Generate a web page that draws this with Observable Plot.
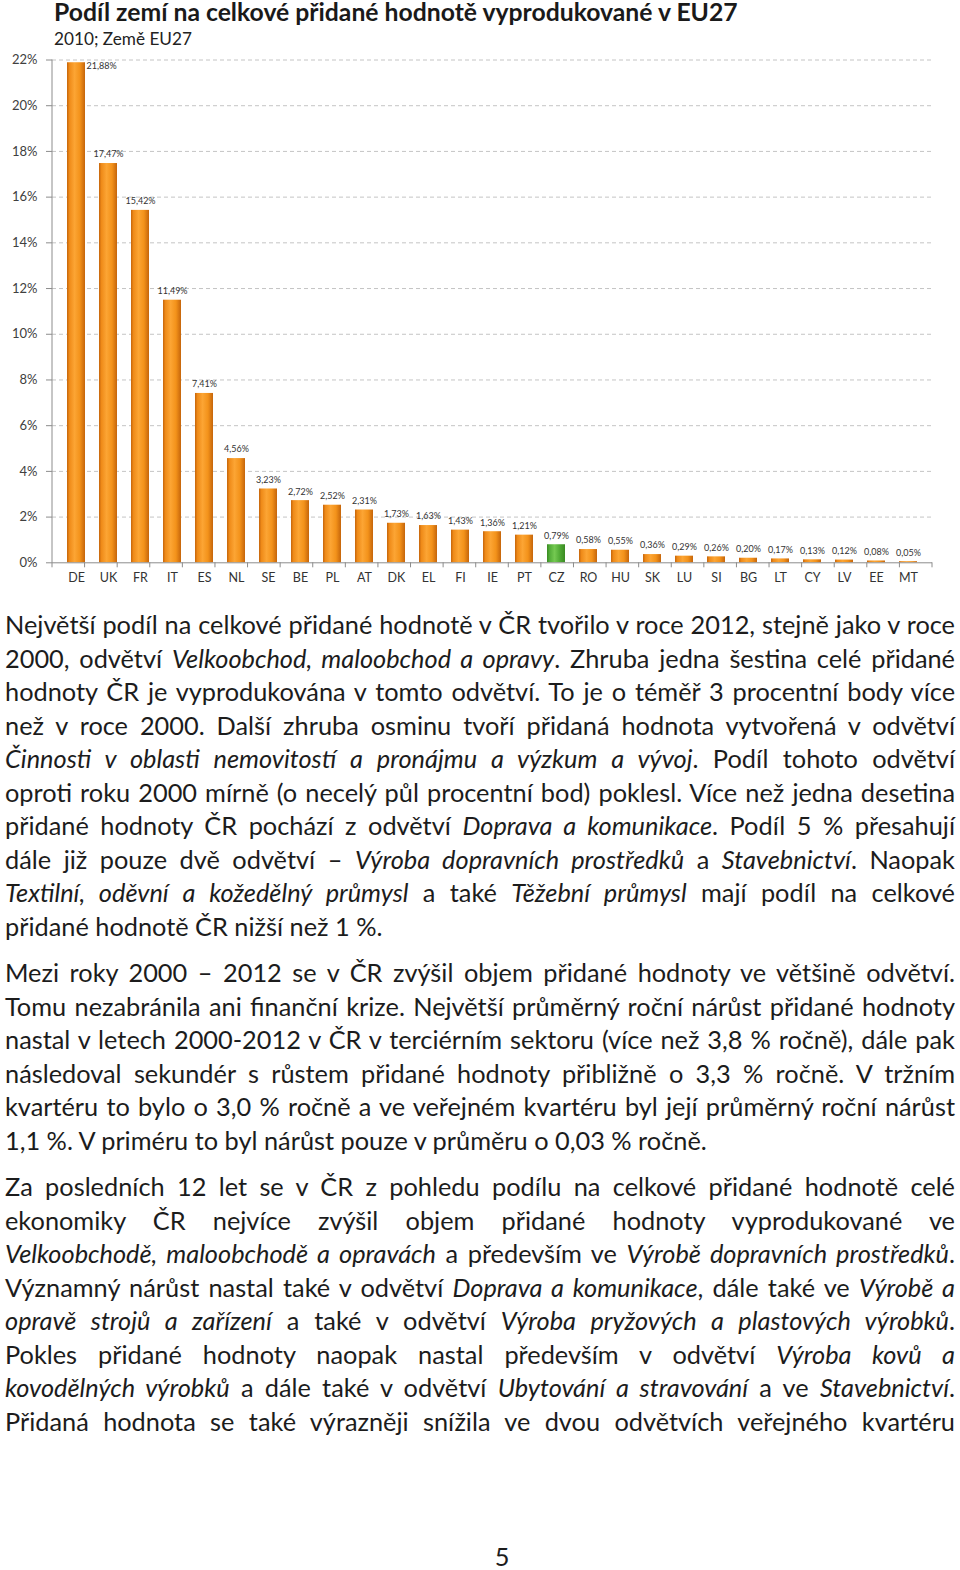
<!DOCTYPE html>
<html lang="cs">
<head>
<meta charset="utf-8">
<script src="https://cdn.jsdelivr.net/npm/d3@7"></script>
<script src="https://cdn.jsdelivr.net/npm/@observablehq/plot@0.6"></script>
<style>
  html, body { margin: 0; padding: 0; background: #fff; }
  body { width: 960px; height: 1570px; position: relative; overflow: hidden; font-family: Lato, "Noto Sans", sans-serif; color: #1c1c1c; }
  #title { position: absolute; left: 54px; top: 0; font-weight: 700; font-size: 21px; line-height: 24px; white-space: nowrap; color: #1a1a1a; }
  #subtitle { position: absolute; left: 54px; top: 29px; font-size: 16px; line-height: 20px; white-space: nowrap; color: #222; }
  #chart { position: absolute; left: 0; top: 48px; }
  #text { position: absolute; left: 5px; top: 608px; width: 950px; }
  .para { margin: 0 0 13px 0; }
  .line { line-height: 33.5px; height: 33.5px; text-align: justify; text-align-last: justify; }
  .line.last { text-align: left; text-align-last: left; }
  #page { position: absolute; left: 490px; width: 24px; top: 1543px; text-align: center; font-size: 22px; line-height: 26px; }
</style>
</head>
<body>
<div id="title"></div>
<div id="subtitle"></div>
<div id="chart"></div>
<div id="text"></div>
<div id="page">5</div>
<script>
// ---- chart data ----
const titleText = "Podíl zemí na celkové přidané hodnotě vyprodukované v EU27";
const subtitleText = "2010; Země EU27";
const countries = ["DE","UK","FR","IT","ES","NL","SE","BE","PL","AT","DK","EL","FI","IE","PT","CZ","RO","HU","SK","LU","SI","BG","LT","CY","LV","EE","MT"];
const shares = [21.88,17.47,15.42,11.49,7.41,4.56,3.23,2.72,2.52,2.31,1.73,1.63,1.43,1.36,1.21,0.79,0.58,0.55,0.36,0.29,0.26,0.20,0.17,0.13,0.12,0.08,0.05];
const highlighted = "CZ";
const yTicks = [0,2,4,6,8,10,12,14,16,18,20,22];

// ---- article text (italic marked with *) ----
const para1 = [
  "Největší podíl na celkové přidané hodnotě v ČR tvořilo v roce 2012, stejně jako v roce",
  "2000, odvětví *Velkoobchod, maloobchod a opravy*. Zhruba jedna šestina celé přidané",
  "hodnoty ČR je vyprodukována v tomto odvětví. To je o téměř 3 procentní body více",
  "než v roce 2000. Další zhruba osminu tvoří přidaná hodnota vytvořená v odvětví",
  "*Činnosti v oblasti nemovitostí a pronájmu a výzkum a vývoj*. Podíl tohoto odvětví",
  "oproti roku 2000 mírně (o necelý půl procentní bod) poklesl. Více než jedna desetina",
  "přidané hodnoty ČR pochází z odvětví *Doprava a komunikace*. Podíl 5 % přesahují",
  "dále již pouze dvě odvětví – *Výroba dopravních prostředků* a *Stavebnictví*. Naopak",
  "*Textilní, oděvní a kožedělný průmysl* a také *Těžební průmysl* mají podíl na celkové",
  "přidané hodnotě ČR nižší než 1 %."
];
const para2 = [
  "Mezi roky 2000 – 2012 se v ČR zvýšil objem přidané hodnoty ve většině odvětví.",
  "Tomu nezabránila ani finanční krize. Největší průměrný roční nárůst přidané hodnoty",
  "nastal v letech 2000-2012 v ČR v terciérním sektoru (více než 3,8 % ročně), dále pak",
  "následoval sekundér s růstem přidané hodnoty přibližně o 3,3 % ročně. V tržním",
  "kvartéru to bylo o 3,0 % ročně a ve veřejném kvartéru byl její průměrný roční nárůst",
  "1,1 %. V priméru to byl nárůst pouze v průměru o 0,03 % ročně."
];
const para3 = [
  "Za posledních 12 let se v ČR z pohledu podílu na celkové přidané hodnotě celé",
  "ekonomiky ČR nejvíce zvýšil objem přidané hodnoty vyprodukované ve",
  "*Velkoobchodě, maloobchodě a opravách* a především ve *Výrobě dopravních prostředků*.",
  "Významný nárůst nastal také v odvětví *Doprava a komunikace*, dále také ve *Výrobě a*",
  "*opravě strojů a zařízení* a také v odvětví *Výroba pryžových a plastových výrobků*.",
  "Pokles přidané hodnoty naopak nastal především v odvětví *Výroba kovů a*",
  "*kovodělných výrobků* a dále také v odvětví *Ubytování a stravování* a ve *Stavebnictví*.",
  "Přidaná hodnota se také výrazněji snížila ve dvou odvětvích veřejného kvartéru"
];
const paragraphs = [
  {lines: para1, endsParagraph: true},
  {lines: para2, endsParagraph: true},
  {lines: para3, endsParagraph: false}
];

// ---- build table ----
const data = countries.map((c, i) => ({country: c, share: shares[i]}));
const fmt = v => d3.format(".2f")(v).replace(".", ",") + "%";

// ---- title ----
function fitWidth(el, target) {
  el.style.display = "inline-block";
  const w = el.getBoundingClientRect().width;
  const fs = parseFloat(getComputedStyle(el).fontSize);
  el.style.fontSize = (fs * target / w) + "px";
}
const tEl = document.getElementById("title");
tEl.textContent = titleText;
fitWidth(tEl, 684);
const sEl = document.getElementById("subtitle");
sEl.textContent = subtitleText;
fitWidth(sEl, 138);

// ---- chart ----
function gradientDefs() {
  const g = d3.create("svg:g");
  const defs = g.append("defs");
  const mk = (id, stops) => {
    const lg = defs.append("linearGradient").attr("id", id).attr("x1", "0").attr("x2", "1").attr("y1", "0").attr("y2", "0");
    stops.forEach(([o, c]) => lg.append("stop").attr("offset", o).attr("stop-color", c));
  };
  mk("gOrange", [[0, "#C5650B"], [0.14, "#EF8B19"], [0.42, "#FCA534"], [0.72, "#F3921A"], [1, "#C5650B"]]);
  mk("gGreen", [[0, "#3A8A22"], [0.14, "#52AC38"], [0.42, "#74C951"], [0.72, "#4FA934"], [1, "#3A8A22"]]);
  mk("gCap", [[0, "#F3A22A"], [0.3, "#FFD25E"], [0.55, "#FFE28C"], [0.8, "#FFC84A"], [1, "#F09A22"]]);
  return g.node();
}

function axisFrame(index, scales, values, dim) {
  const g = d3.create("svg:g").attr("stroke", "#8c8c8c").attr("fill", "none");
  const x0 = dim.marginLeft, x1 = dim.width - dim.marginRight;
  const yb = scales.y(yTicks[0]), yt = scales.y(yTicks[yTicks.length - 1]);
  g.append("line").attr("x1", x0).attr("x2", x0).attr("y1", yt).attr("y2", yb);
  const step = (x1 - x0) / countries.length;
  for (let i = 0; i <= countries.length; i++) {
    const x = x0 + i * step;
    g.append("line").attr("x1", x).attr("x2", x).attr("y1", yb).attr("y2", yb + 5);
  }
  return g.node();
}

const plot = Plot.plot({
  width: 960,
  height: 548,
  marginTop: 11.5,
  marginBottom: 33.7,
  marginLeft: 52,
  marginRight: 28,
  style: {fontFamily: "Lato, 'Noto Sans', sans-serif", background: "transparent", color: "#333"},
  x: {domain: countries, paddingInner: 0.45, paddingOuter: 0.225, label: null},
  y: {domain: [0, 22], label: null},
  marks: [
    gradientDefs,
    Plot.ruleY(yTicks.filter(t => t > 0), {stroke: "#c4c4c4", strokeDasharray: "4,3"}),
    Plot.barY(data.filter(d => d.country !== highlighted), {x: "country", y: "share", fill: "url(#gOrange)"}),
    Plot.barY(data.filter(d => d.country === highlighted), {x: "country", y: "share", fill: "url(#gGreen)"}),
    Plot.tickY(data.filter(d => d.share >= 0.25 && d.country !== highlighted), {x: "country", y: "share", stroke: "url(#gCap)", strokeWidth: 4, dy: 2}),
    Plot.ruleY([0], {stroke: "#8c8c8c"}),
    axisFrame,
    Plot.axisY({ticks: yTicks, tickSize: 6, tickPadding: 9, tickFormat: d => d + "%", fontSize: 13, stroke: "#8c8c8c", fill: "#404040"}),
    Plot.axisX({tickSize: 0, tickPadding: 10, fontSize: 12.5, fill: "#333"}),
    Plot.text(data.slice(1), {x: "country", y: "share", text: d => fmt(d.share), dy: -9, fontSize: 9, fill: "#333"}),
    Plot.text(data.slice(0, 1), {x: "country", y: "share", text: d => fmt(d.share), dx: 10, dy: 3, textAnchor: "start", fontSize: 9, fill: "#333"})
  ]
});
document.getElementById("chart").appendChild(plot);

// ---- text ----
function toHTML(s) {
  return s.replace(/&/g, "&amp;").replace(/</g, "&lt;").replace(/\*([^*]+)\*/g, "<i>$1</i>");
}
const textDiv = document.getElementById("text");
const allLines = [];
paragraphs.forEach(p => {
  const pd = document.createElement("div");
  pd.className = "para";
  p.lines.forEach((ln, i) => {
    const d = document.createElement("div");
    d.className = "line" + (p.endsParagraph && i === p.lines.length - 1 ? " last" : "");
    d.innerHTML = toHTML(ln);
    pd.appendChild(d);
    allLines.push(d);
  });
  textDiv.appendChild(pd);
});
// fit font size so the tightest line fills the 950px width
let base = 23;
textDiv.style.fontSize = base + "px";
let maxW = 0;
allLines.forEach(d => {
  const s = document.createElement("span");
  s.style.whiteSpace = "nowrap";
  s.innerHTML = d.innerHTML;
  document.body.appendChild(s);
  s.style.fontSize = base + "px";
  maxW = Math.max(maxW, s.getBoundingClientRect().width);
  s.remove();
});
textDiv.style.fontSize = Math.min(26, base * 944 / maxW) + "px";
document.getElementById("page").style.fontSize = Math.min(26, base * 944 / maxW) + "px";
</script>
</body>
</html>
